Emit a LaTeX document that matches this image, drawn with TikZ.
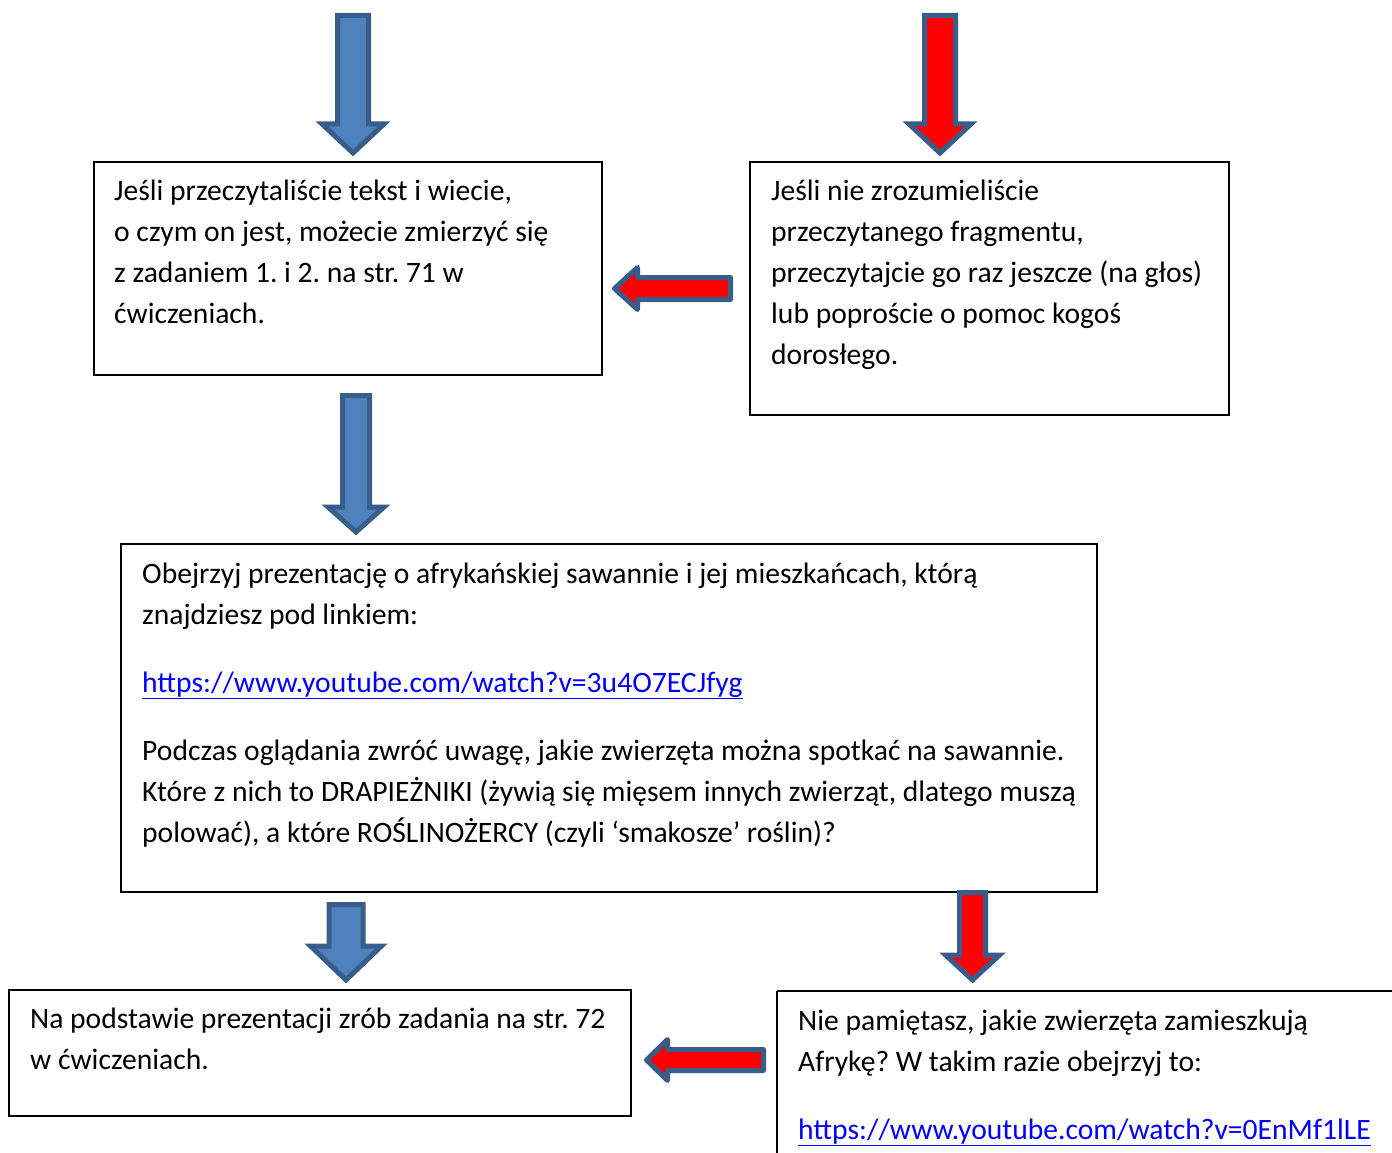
\documentclass[tikz,border=0pt]{standalone}
\usepackage{fontspec}
\setmainfont{Carlito}
\frenchspacing
\usetikzlibrary{calc}
\definecolor{arrblue}{HTML}{4F81BD}
\definecolor{arredge}{HTML}{385D8A}
\definecolor{arrred}{HTML}{FF0000}
\definecolor{linkblue}{HTML}{0000FF}
\newcommand{\DownArr}[7]{%
  \filldraw[arrow outline, fill=#7, line join=miter]
    ({#1-#5},#2) -- ({#1+#5},#2) -- ({#1+#5},#3) -- ({#1+#6},#3) -- (#1,#4)
    -- ({#1-#6},#3) -- ({#1-#5},#3) -- cycle;}
\newcommand{\LeftArr}[7]{%
  \filldraw[arrow outline, fill=#7, line join=round]
    (#1,#4) -- (#2,{#4-#6}) -- (#2,{#4-#5}) -- (#3,{#4-#5}) -- (#3,{#4+#5})
    -- (#2,{#4+#5}) -- (#2,{#4+#6}) -- cycle;}
\newcommand{\Lnk}[1]{\textcolor{linkblue}{\underline{#1}}}
\begin{document}
\begin{tikzpicture}[x=1pt,y=-1pt,
  arrow outline/.style={draw=arredge, line width=5pt},
  box/.style={draw=black, line width=2pt},
  txt/.style={anchor=base west, align=left, inner sep=0pt, font=\fontsize{29.6}{41}\selectfont}]
\useasboundingbox (0,0) rectangle (1392,1153);
% boxes
\draw[box] (94,162) rectangle (602,375);
\draw[box] (750,162) rectangle (1229,415);
\draw[box] (121,544) rectangle (1097,892);
\draw[box] (9,990) rectangle (631,1116);
\draw[box] (777,991) -- (1400,991);
\draw[box] (777,991) -- (777,1160);
% texts (anchored at the baseline of the last line)
\node[txt] (t1) at (114,323) {Jeśli przeczytaliście tekst i wiecie,\\o czym on jest, możecie zmierzyć się\\z zadaniem 1. i 2. na str. 71 w\\ćwiczeniach.};
\node[txt] (t2) at (771,364) {Jeśli nie zrozumieliście\\przeczytanego fragmentu,\\przeczytajcie go raz jeszcze (na głos)\\lub poproście o pomoc kogoś\\dorosłego.};
\node[txt] (t3a) at (142,624) {Obejrzyj prezentację o afrykańskiej sawannie i jej mieszkańcach, którą\\znajdziesz pod linkiem:};
\node[txt] (t3b) at (142,692) {\Lnk{https://www.youtube.com/watch?v=3u4O7ECJfyg}};
\node[txt] (t3c) at (142,842) {Podczas oglądania zwróć uwagę, jakie zwierzęta można spotkać na sawannie.\\Które z nich to DRAPIEŻNIKI (żywią się mięsem innych zwierząt, dlatego muszą\\polować), a które ROŚLINOŻERCY (czyli ‘smakosze’ roślin)?};
\node[txt] (t4) at (30,1069) {Na podstawie prezentacji zrób zadania na str. 72\\w ćwiczeniach.};
\node[txt] (t5a) at (798,1071) {Nie pamiętasz, jakie zwierzęta zamieszkują\\Afrykę? W takim razie obejrzyj to:};
\node[txt] (t5b) at (798,1139) {\Lnk{https://www.youtube.com/watch?v=0EnMf1lLE}};
% arrows
\DownArr{353}{15.5}{124}{153}{15.5}{31}{arrblue}
\DownArr{940}{15.5}{124}{153}{15.5}{31}{arrred}
\DownArr{356}{395.5}{507}{532}{13.5}{28}{arrblue}
\DownArr{346}{904.5}{946}{980}{17}{35.5}{arrblue}
\DownArr{972.5}{892.5}{955}{980}{13}{27}{arrred}
\LeftArr{614.5}{637.5}{730.5}{288.5}{11}{21}{arrred}
\LeftArr{646.5}{667.5}{763.5}{1060}{10.5}{20.5}{arrred}
\end{tikzpicture}
\end{document}
